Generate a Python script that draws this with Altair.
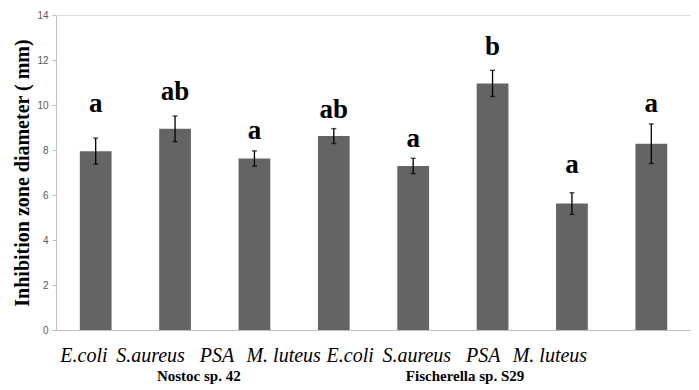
import altair as alt
import pandas as pd

# ---- data ----
organisms = ["E.coli", "S.aureus", "PSA", "M. luteus", "E.coli", "S.aureus", "PSA", "M. luteus"]
strains = ["Nostoc sp. 42"] * 4 + ["Fischerella sp. S29"] * 4
means = [7.95, 8.94, 7.62, 8.62, 7.29, 10.96, 5.62, 8.28]
errors = [0.58, 0.57, 0.34, 0.33, 0.34, 0.58, 0.48, 0.88]
letters = ["a", "ab", "a", "ab", "a", "b", "a", "a"]
letter_heights = [9.69, 10.22, 8.49, 9.42, 8.13, 12.22, 6.98, 9.69]
group_names = ["Nostoc sp. 42", "Fischerella sp. S29"]
group_centres = [1.5, 5.5]
y_ticks = [0, 2, 4, 6, 8, 10, 12, 14]

df = pd.DataFrame({
    "idx": list(range(len(organisms))),
    "organism": organisms,
    "strain": strains,
    "mean": means,
    "err": errors,
    "letter": letters,
    "letter_y": letter_heights,
})
df["lo"] = df["mean"] - df["err"]
df["hi"] = df["mean"] + df["err"]

df_grp = pd.DataFrame({"idx": group_centres, "name": group_names})

SERIF = "Liberation Serif"
AXIS_GRAY = "#bfbfbf"

base = alt.Chart(df)
x_band = alt.X("idx:O",
               scale=alt.Scale(paddingInner=0.6, paddingOuter=0.3),
               axis=alt.Axis(labels=False, ticks=False, title=None,
                             domainColor=AXIS_GRAY, domainWidth=1))
y_scale = alt.Scale(domain=[0, 14], nice=False)

bars = base.mark_bar(color="#646464").encode(
    x=x_band,
    y=alt.Y("mean:Q", scale=y_scale,
            axis=alt.Axis(values=y_ticks, grid=False, tickSize=4,
                          tickColor=AXIS_GRAY, domainColor=AXIS_GRAY,
                          labelFont="Liberation Sans", labelFontSize=10,
                          labelColor="#595959", labelPadding=4,
                          title="Inhibition zone diameter ( mm)",
                          titleFont=SERIF, titleFontWeight="bold",
                          titleFontSize=20, titleColor="black",
                          titlePadding=4)),
)
err_rule = base.mark_rule(color="black", strokeWidth=1.3).encode(
    x=alt.X("idx:O"), y=alt.Y("lo:Q", scale=y_scale), y2="hi:Q")
cap_lo = base.mark_tick(color="black", size=5, thickness=1.4).encode(
    x=alt.X("idx:O"), y=alt.Y("lo:Q", scale=y_scale))
cap_hi = base.mark_tick(color="black", size=5, thickness=1.4).encode(
    x=alt.X("idx:O"), y=alt.Y("hi:Q", scale=y_scale))
letter_txt = base.mark_text(font=SERIF, fontWeight="bold", fontSize=27,
                            baseline="alphabetic", color="black").encode(
    x=alt.X("idx:O"), y=alt.Y("letter_y:Q", scale=y_scale), text="letter:N")

plot_layer = alt.layer(bars, err_rule, cap_lo, cap_hi, letter_txt)

# category labels (typed under the plot, spaced independently of bars)
lab_scale = alt.Scale(domain=[-0.42, 9.12], nice=False, zero=False)
org_labels = base.mark_text(font=SERIF, fontStyle="italic", fontSize=20,
                            baseline="alphabetic", color="black").encode(
    x=alt.X("idx:Q", scale=lab_scale, axis=None),
    y=alt.value(347),
    text="organism:N")
grp_labels = alt.Chart(df_grp).mark_text(font=SERIF, fontWeight="bold", fontSize=15,
                                         baseline="alphabetic", color="black", dx=15).encode(
    x=alt.X("idx:Q", scale=lab_scale, axis=None),
    y=alt.value(366),
    text="name:N")
label_layer = alt.layer(org_labels, grp_labels)

chart = alt.layer(plot_layer, label_layer).resolve_scale(x="independent").properties(
    width=635, height=315,
    padding={"left": 48, "top": 7, "right": 0, "bottom": 58},
    autosize=alt.AutoSizeParams(type="none"),
).configure_view(stroke=None).configure(background="white")

chart.save("out.html", embed_options={"renderer": "svg", "actions": False})
